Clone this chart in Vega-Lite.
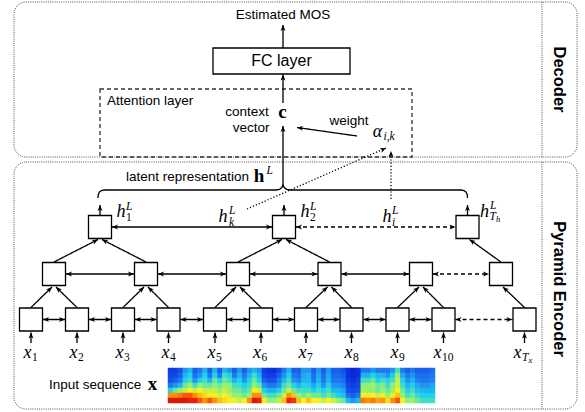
{
"$schema":"https://vega.github.io/schema/vega-lite/v6.json",
"width":585,"height":412,"padding":0,"autosize":{"type":"none"},
"background":"white",
"config":{"view":{"stroke":null}},
"datasets":{
"panels":[{"x":14,"y":2,"x2":577,"y2":157},{"x":14,"y":162,"x2":577,"y2":409}],
"dividers":[{"x":542,"y":2,"y2":157},{"x":542,"y":162,"y2":409}],
"attn":[{"x":100,"y":89,"x2":412,"y2":157}],
"fc":[{"x":213,"y":48,"x2":350,"y2":74}],
"nodes":[
{"x":31,"y":319.5},{"x":77,"y":319.5},{"x":123,"y":319.5},{"x":168.5,"y":319.5},{"x":215,"y":319.5},{"x":261,"y":319.5},{"x":306,"y":319.5},{"x":351.5,"y":319.5},{"x":397.5,"y":319.5},{"x":443.5,"y":319.5},{"x":524.5,"y":319.5},
{"x":54,"y":274},{"x":146,"y":274},{"x":238,"y":274},{"x":329.5,"y":274},{"x":421,"y":274},{"x":501,"y":274},
{"x":100,"y":227},{"x":284,"y":227},{"x":467.5,"y":227}],
"edges":[
{"x":31,"y":343,"x2":31,"y2":332.5,"s":"solid","h":1},
{"x":77,"y":343,"x2":77,"y2":332.5,"s":"solid","h":1},
{"x":123,"y":343,"x2":123,"y2":332.5,"s":"solid","h":1},
{"x":168.5,"y":343,"x2":168.5,"y2":332.5,"s":"solid","h":1},
{"x":215,"y":343,"x2":215,"y2":332.5,"s":"solid","h":1},
{"x":261,"y":343,"x2":261,"y2":332.5,"s":"solid","h":1},
{"x":306,"y":343,"x2":306,"y2":332.5,"s":"solid","h":1},
{"x":351.5,"y":343,"x2":351.5,"y2":332.5,"s":"solid","h":1},
{"x":397.5,"y":343,"x2":397.5,"y2":332.5,"s":"solid","h":1},
{"x":443.5,"y":343,"x2":443.5,"y2":332.5,"s":"solid","h":1},
{"x":524.5,"y":343,"x2":524.5,"y2":332.5,"s":"solid","h":1},
{"x":31,"y":307.5,"x2":52,"y2":287,"s":"solid","h":1},
{"x":77,"y":307.5,"x2":56,"y2":287,"s":"solid","h":1},
{"x":123,"y":307.5,"x2":144,"y2":287,"s":"solid","h":1},
{"x":168.5,"y":307.5,"x2":148,"y2":287,"s":"solid","h":1},
{"x":215,"y":307.5,"x2":236,"y2":287,"s":"solid","h":1},
{"x":261,"y":307.5,"x2":240,"y2":287,"s":"solid","h":1},
{"x":306,"y":307.5,"x2":327.5,"y2":287,"s":"solid","h":1},
{"x":351.5,"y":307.5,"x2":331.5,"y2":287,"s":"solid","h":1},
{"x":397.5,"y":307.5,"x2":419,"y2":287,"s":"solid","h":1},
{"x":443.5,"y":307.5,"x2":423,"y2":287,"s":"solid","h":1},
{"x":524.5,"y":307.5,"x2":503,"y2":287,"s":"solid","h":1},
{"x":54,"y":262,"x2":98,"y2":239.5,"s":"solid","h":1},
{"x":146,"y":262,"x2":102,"y2":239.5,"s":"solid","h":1},
{"x":238,"y":262,"x2":282,"y2":239.5,"s":"solid","h":1},
{"x":329.5,"y":262,"x2":286,"y2":239.5,"s":"solid","h":1},
{"x":501,"y":262,"x2":469.5,"y2":239.5,"s":"solid","h":1},
{"x":43,"y":319.5,"x2":65,"y2":319.5,"s":"solid","h":2},
{"x":89,"y":319.5,"x2":111,"y2":319.5,"s":"solid","h":2},
{"x":135,"y":319.5,"x2":156.5,"y2":319.5,"s":"solid","h":2},
{"x":180.5,"y":319.5,"x2":203,"y2":319.5,"s":"solid","h":2},
{"x":227,"y":319.5,"x2":249,"y2":319.5,"s":"solid","h":2},
{"x":273,"y":319.5,"x2":294,"y2":319.5,"s":"solid","h":2},
{"x":318,"y":319.5,"x2":339.5,"y2":319.5,"s":"solid","h":2},
{"x":363.5,"y":319.5,"x2":385.5,"y2":319.5,"s":"solid","h":2},
{"x":409.5,"y":319.5,"x2":431.5,"y2":319.5,"s":"solid","h":2},
{"x":455.5,"y":319.5,"x2":512.5,"y2":319.5,"s":"dashed","h":2},
{"x":66,"y":274,"x2":134,"y2":274,"s":"solid","h":2},
{"x":158,"y":274,"x2":226,"y2":274,"s":"solid","h":2},
{"x":250,"y":274,"x2":317.5,"y2":274,"s":"solid","h":2},
{"x":341.5,"y":274,"x2":409,"y2":274,"s":"solid","h":2},
{"x":433,"y":274,"x2":489,"y2":274,"s":"dashed","h":2},
{"x":112,"y":227,"x2":272,"y2":227,"s":"solid","h":2},
{"x":296,"y":227,"x2":455.5,"y2":227,"s":"dashed","h":2},
{"x":100,"y":215,"x2":100,"y2":205,"s":"solid","h":1},
{"x":284,"y":215,"x2":284,"y2":205,"s":"solid","h":1},
{"x":467.5,"y":215,"x2":467.5,"y2":205,"s":"solid","h":1},
{"x":283,"y":48,"x2":283,"y2":25,"s":"solid","h":1},
{"x":283,"y":103,"x2":283,"y2":74.5,"s":"solid","h":1},
{"x":283,"y":186,"x2":283,"y2":126,"s":"solid","h":1},
{"x":357,"y":136,"x2":297,"y2":127.5,"s":"solid","h":1},
{"x":247,"y":209,"x2":386,"y2":148,"s":"dotted","h":1},
{"x":391,"y":199,"x2":391,"y2":151,"s":"dotted","h":1}],
"brace":[
{"o":0,"x":98,"y":198},{"o":1,"x":98.3,"y":194.5},{"o":2,"x":99.5,"y":192},{"o":3,"x":101.5,"y":190.5},{"o":4,"x":104.5,"y":190},
{"o":5,"x":276,"y":190},{"o":6,"x":279.5,"y":189.3},{"o":7,"x":281.8,"y":187.5},{"o":8,"x":283,"y":185},{"o":9,"x":284.2,"y":187.5},{"o":10,"x":286.5,"y":189.3},{"o":11,"x":290,"y":190},
{"o":12,"x":461,"y":190},{"o":13,"x":464,"y":190.5},{"o":14,"x":466,"y":192},{"o":15,"x":467.2,"y":194.5},{"o":16,"x":467.5,"y":198}],
"sansC":[{"x":283,"y":15,"t":"Estimated MOS"},{"x":247,"y":112,"t":"context"},{"x":251,"y":127.5,"t":"vector"},{"x":349,"y":121,"t":"weight"}],
"sansL":[{"x":107,"y":101,"t":"Attention layer"},{"x":126,"y":176.5,"t":"latent representation"},{"x":49,"y":384.5,"t":"Input sequence"}],
"fcText":[{"x":281.5,"y":61,"t":"FC layer"}],
"side":[{"x":559,"y":79.5,"t":"Decoder"},{"x":559,"y":289,"t":"Pyramid Encoder"}],
"mathBig":[
{"x":27.5,"y":357.5,"t":"x"},{"x":73.5,"y":357.5,"t":"x"},{"x":119.5,"y":357.5,"t":"x"},{"x":165.5,"y":357.5,"t":"x"},{"x":211.5,"y":357.5,"t":"x"},{"x":257,"y":357.5,"t":"x"},{"x":302.5,"y":357.5,"t":"x"},{"x":348.5,"y":357.5,"t":"x"},{"x":394.5,"y":357.5,"t":"x"},{"x":437.5,"y":357.5,"t":"x"},{"x":517.5,"y":357.5,"t":"x"},
{"x":121,"y":217,"t":"h"},{"x":223,"y":222,"t":"h"},{"x":305,"y":217,"t":"h"},{"x":387,"y":222,"t":"h"},{"x":484.5,"y":217,"t":"h"},
{"x":377.5,"y":137,"t":"α"}],
"subUp":[
{"x":32,"y":361,"t":"1"},{"x":78,"y":361,"t":"2"},{"x":124,"y":361,"t":"3"},{"x":170,"y":361,"t":"4"},{"x":216,"y":361,"t":"5"},{"x":261.5,"y":361,"t":"6"},{"x":307,"y":361,"t":"7"},{"x":353,"y":361,"t":"8"},{"x":399,"y":361,"t":"9"},{"x":442,"y":361,"t":"10"},
{"x":126,"y":220.5,"t":"1"},{"x":310,"y":220.5,"t":"2"}],
"subIt":[
{"x":522,"y":361,"t":"T"},
{"x":126,"y":210,"t":"L"},{"x":229,"y":214,"t":"L"},{"x":229,"y":226,"t":"k"},{"x":310,"y":210,"t":"L"},{"x":392,"y":214,"t":"L"},{"x":392,"y":226,"t":"i"},{"x":490,"y":209,"t":"L"},{"x":489.5,"y":220,"t":"T"},
{"x":383.5,"y":139.5,"t":"i,k"},{"x":266.5,"y":173.5,"t":"L"}],
"tiny":[{"x":528.5,"y":363,"t":"x"},{"x":496,"y":222,"t":"h"}],
"bold":[{"x":282.5,"y":118,"t":"c"},{"x":259,"y":182,"t":"h"},{"x":152.5,"y":389.5,"t":"x"}],
"spec":[
{"c":0,"r":0,"v":0.18},{"c":0,"r":1,"v":0.2},{"c":0,"r":2,"v":0.22},{"c":0,"r":3,"v":0.3},{"c":0,"r":4,"v":0.45},{"c":0,"r":5,"v":0.8},{"c":0,"r":6,"v":0.92},
{"c":1,"r":0,"v":0.18},{"c":1,"r":1,"v":0.2},{"c":1,"r":2,"v":0.25},{"c":1,"r":3,"v":0.35},{"c":1,"r":4,"v":0.55},{"c":1,"r":5,"v":0.8},{"c":1,"r":6,"v":0.92},
{"c":2,"r":0,"v":0.22},{"c":2,"r":1,"v":0.25},{"c":2,"r":2,"v":0.3},{"c":2,"r":3,"v":0.4},{"c":2,"r":4,"v":0.6},{"c":2,"r":5,"v":0.82},{"c":2,"r":6,"v":0.92},
{"c":3,"r":0,"v":0.35},{"c":3,"r":1,"v":0.4},{"c":3,"r":2,"v":0.45},{"c":3,"r":3,"v":0.55},{"c":3,"r":4,"v":0.65},{"c":3,"r":5,"v":0.85},{"c":3,"r":6,"v":0.92},
{"c":4,"r":0,"v":0.4},{"c":4,"r":1,"v":0.45},{"c":4,"r":2,"v":0.5},{"c":4,"r":3,"v":0.6},{"c":4,"r":4,"v":0.7},{"c":4,"r":5,"v":0.85},{"c":4,"r":6,"v":0.9},
{"c":5,"r":0,"v":0.25},{"c":5,"r":1,"v":0.28},{"c":5,"r":2,"v":0.35},{"c":5,"r":3,"v":0.5},{"c":5,"r":4,"v":0.65},{"c":5,"r":5,"v":0.8},{"c":5,"r":6,"v":0.9},
{"c":6,"r":0,"v":0.3},{"c":6,"r":1,"v":0.35},{"c":6,"r":2,"v":0.45},{"c":6,"r":3,"v":0.6},{"c":6,"r":4,"v":0.7},{"c":6,"r":5,"v":0.75},{"c":6,"r":6,"v":0.85},
{"c":7,"r":0,"v":0.4},{"c":7,"r":1,"v":0.45},{"c":7,"r":2,"v":0.5},{"c":7,"r":3,"v":0.55},{"c":7,"r":4,"v":0.65},{"c":7,"r":5,"v":0.72},{"c":7,"r":6,"v":0.8},
{"c":8,"r":0,"v":0.25},{"c":8,"r":1,"v":0.3},{"c":8,"r":2,"v":0.4},{"c":8,"r":3,"v":0.55},{"c":8,"r":4,"v":0.65},{"c":8,"r":5,"v":0.7},{"c":8,"r":6,"v":0.85},
{"c":9,"r":0,"v":0.4},{"c":9,"r":1,"v":0.45},{"c":9,"r":2,"v":0.55},{"c":9,"r":3,"v":0.6},{"c":9,"r":4,"v":0.65},{"c":9,"r":5,"v":0.7},{"c":9,"r":6,"v":0.8},
{"c":10,"r":0,"v":0.25},{"c":10,"r":1,"v":0.3},{"c":10,"r":2,"v":0.45},{"c":10,"r":3,"v":0.55},{"c":10,"r":4,"v":0.6},{"c":10,"r":5,"v":0.65},{"c":10,"r":6,"v":0.75},
{"c":11,"r":0,"v":0.4},{"c":11,"r":1,"v":0.5},{"c":11,"r":2,"v":0.55},{"c":11,"r":3,"v":0.6},{"c":11,"r":4,"v":0.65},{"c":11,"r":5,"v":0.7},{"c":11,"r":6,"v":0.72},
{"c":12,"r":0,"v":0.35},{"c":12,"r":1,"v":0.45},{"c":12,"r":2,"v":0.5},{"c":12,"r":3,"v":0.6},{"c":12,"r":4,"v":0.6},{"c":12,"r":5,"v":0.65},{"c":12,"r":6,"v":0.7},
{"c":13,"r":0,"v":0.25},{"c":13,"r":1,"v":0.3},{"c":13,"r":2,"v":0.4},{"c":13,"r":3,"v":0.5},{"c":13,"r":4,"v":0.55},{"c":13,"r":5,"v":0.6},{"c":13,"r":6,"v":0.7},
{"c":14,"r":0,"v":0.35},{"c":14,"r":1,"v":0.4},{"c":14,"r":2,"v":0.45},{"c":14,"r":3,"v":0.5},{"c":14,"r":4,"v":0.55},{"c":14,"r":5,"v":0.6},{"c":14,"r":6,"v":0.65},
{"c":15,"r":0,"v":0.25},{"c":15,"r":1,"v":0.3},{"c":15,"r":2,"v":0.35},{"c":15,"r":3,"v":0.45},{"c":15,"r":4,"v":0.5},{"c":15,"r":5,"v":0.55},{"c":15,"r":6,"v":0.7},
{"c":16,"r":0,"v":0.35},{"c":16,"r":1,"v":0.4},{"c":16,"r":2,"v":0.45},{"c":16,"r":3,"v":0.5},{"c":16,"r":4,"v":0.55},{"c":16,"r":5,"v":0.6},{"c":16,"r":6,"v":0.8},
{"c":17,"r":0,"v":0.4},{"c":17,"r":1,"v":0.5},{"c":17,"r":2,"v":0.55},{"c":17,"r":3,"v":0.6},{"c":17,"r":4,"v":0.7},{"c":17,"r":5,"v":0.8},{"c":17,"r":6,"v":0.92},
{"c":18,"r":0,"v":0.35},{"c":18,"r":1,"v":0.4},{"c":18,"r":2,"v":0.45},{"c":18,"r":3,"v":0.55},{"c":18,"r":4,"v":0.65},{"c":18,"r":5,"v":0.8},{"c":18,"r":6,"v":0.9},
{"c":19,"r":0,"v":0.18},{"c":19,"r":1,"v":0.2},{"c":19,"r":2,"v":0.25},{"c":19,"r":3,"v":0.35},{"c":19,"r":4,"v":0.45},{"c":19,"r":5,"v":0.55},{"c":19,"r":6,"v":0.7},
{"c":20,"r":0,"v":0.15},{"c":20,"r":1,"v":0.18},{"c":20,"r":2,"v":0.22},{"c":20,"r":3,"v":0.3},{"c":20,"r":4,"v":0.4},{"c":20,"r":5,"v":0.5},{"c":20,"r":6,"v":0.6},
{"c":21,"r":0,"v":0.15},{"c":21,"r":1,"v":0.18},{"c":21,"r":2,"v":0.22},{"c":21,"r":3,"v":0.3},{"c":21,"r":4,"v":0.4},{"c":21,"r":5,"v":0.5},{"c":21,"r":6,"v":0.6},
{"c":22,"r":0,"v":0.2},{"c":22,"r":1,"v":0.25},{"c":22,"r":2,"v":0.3},{"c":22,"r":3,"v":0.35},{"c":22,"r":4,"v":0.45},{"c":22,"r":5,"v":0.55},{"c":22,"r":6,"v":0.65},
{"c":23,"r":0,"v":0.3},{"c":23,"r":1,"v":0.35},{"c":23,"r":2,"v":0.4},{"c":23,"r":3,"v":0.5},{"c":23,"r":4,"v":0.55},{"c":23,"r":5,"v":0.65},{"c":23,"r":6,"v":0.75},
{"c":24,"r":0,"v":0.4},{"c":24,"r":1,"v":0.45},{"c":24,"r":2,"v":0.5},{"c":24,"r":3,"v":0.55},{"c":24,"r":4,"v":0.65},{"c":24,"r":5,"v":0.8},{"c":24,"r":6,"v":0.9},
{"c":25,"r":0,"v":0.25},{"c":25,"r":1,"v":0.3},{"c":25,"r":2,"v":0.35},{"c":25,"r":3,"v":0.45},{"c":25,"r":4,"v":0.55},{"c":25,"r":5,"v":0.75},{"c":25,"r":6,"v":0.88},
{"c":26,"r":0,"v":0.25},{"c":26,"r":1,"v":0.28},{"c":26,"r":2,"v":0.32},{"c":26,"r":3,"v":0.4},{"c":26,"r":4,"v":0.5},{"c":26,"r":5,"v":0.6},{"c":26,"r":6,"v":0.75},
{"c":27,"r":0,"v":0.35},{"c":27,"r":1,"v":0.38},{"c":27,"r":2,"v":0.4},{"c":27,"r":3,"v":0.45},{"c":27,"r":4,"v":0.5},{"c":27,"r":5,"v":0.55},{"c":27,"r":6,"v":0.7},
{"c":28,"r":0,"v":0.35},{"c":28,"r":1,"v":0.4},{"c":28,"r":2,"v":0.4},{"c":28,"r":3,"v":0.45},{"c":28,"r":4,"v":0.5},{"c":28,"r":5,"v":0.6},{"c":28,"r":6,"v":0.75},
{"c":29,"r":0,"v":0.25},{"c":29,"r":1,"v":0.28},{"c":29,"r":2,"v":0.3},{"c":29,"r":3,"v":0.38},{"c":29,"r":4,"v":0.45},{"c":29,"r":5,"v":0.55},{"c":29,"r":6,"v":0.7},
{"c":30,"r":0,"v":0.35},{"c":30,"r":1,"v":0.38},{"c":30,"r":2,"v":0.4},{"c":30,"r":3,"v":0.45},{"c":30,"r":4,"v":0.5},{"c":30,"r":5,"v":0.55},{"c":30,"r":6,"v":0.7},
{"c":31,"r":0,"v":0.25},{"c":31,"r":1,"v":0.28},{"c":31,"r":2,"v":0.3},{"c":31,"r":3,"v":0.35},{"c":31,"r":4,"v":0.45},{"c":31,"r":5,"v":0.5},{"c":31,"r":6,"v":0.65},
{"c":32,"r":0,"v":0.35},{"c":32,"r":1,"v":0.38},{"c":32,"r":2,"v":0.4},{"c":32,"r":3,"v":0.45},{"c":32,"r":4,"v":0.5},{"c":32,"r":5,"v":0.55},{"c":32,"r":6,"v":0.7},
{"c":33,"r":0,"v":0.25},{"c":33,"r":1,"v":0.27},{"c":33,"r":2,"v":0.3},{"c":33,"r":3,"v":0.35},{"c":33,"r":4,"v":0.4},{"c":33,"r":5,"v":0.5},{"c":33,"r":6,"v":0.65},
{"c":34,"r":0,"v":0.25},{"c":34,"r":1,"v":0.27},{"c":34,"r":2,"v":0.3},{"c":34,"r":3,"v":0.35},{"c":34,"r":4,"v":0.4},{"c":34,"r":5,"v":0.45},{"c":34,"r":6,"v":0.6},
{"c":35,"r":0,"v":0.22},{"c":35,"r":1,"v":0.25},{"c":35,"r":2,"v":0.28},{"c":35,"r":3,"v":0.32},{"c":35,"r":4,"v":0.38},{"c":35,"r":5,"v":0.42},{"c":35,"r":6,"v":0.55},
{"c":36,"r":0,"v":0.15},{"c":36,"r":1,"v":0.15},{"c":36,"r":2,"v":0.18},{"c":36,"r":3,"v":0.2},{"c":36,"r":4,"v":0.22},{"c":36,"r":5,"v":0.28},{"c":36,"r":6,"v":0.4},
{"c":37,"r":0,"v":0.12},{"c":37,"r":1,"v":0.13},{"c":37,"r":2,"v":0.15},{"c":37,"r":3,"v":0.18},{"c":37,"r":4,"v":0.2},{"c":37,"r":5,"v":0.25},{"c":37,"r":6,"v":0.35},
{"c":38,"r":0,"v":0.15},{"c":38,"r":1,"v":0.15},{"c":38,"r":2,"v":0.18},{"c":38,"r":3,"v":0.2},{"c":38,"r":4,"v":0.22},{"c":38,"r":5,"v":0.3},{"c":38,"r":6,"v":0.4},
{"c":39,"r":0,"v":0.3},{"c":39,"r":1,"v":0.4},{"c":39,"r":2,"v":0.5},{"c":39,"r":3,"v":0.6},{"c":39,"r":4,"v":0.62},{"c":39,"r":5,"v":0.7},{"c":39,"r":6,"v":0.82},
{"c":40,"r":0,"v":0.3},{"c":40,"r":1,"v":0.4},{"c":40,"r":2,"v":0.5},{"c":40,"r":3,"v":0.6},{"c":40,"r":4,"v":0.6},{"c":40,"r":5,"v":0.68},{"c":40,"r":6,"v":0.8},
{"c":41,"r":0,"v":0.35},{"c":41,"r":1,"v":0.45},{"c":41,"r":2,"v":0.55},{"c":41,"r":3,"v":0.62},{"c":41,"r":4,"v":0.6},{"c":41,"r":5,"v":0.7},{"c":41,"r":6,"v":0.82},
{"c":42,"r":0,"v":0.3},{"c":42,"r":1,"v":0.4},{"c":42,"r":2,"v":0.45},{"c":42,"r":3,"v":0.55},{"c":42,"r":4,"v":0.55},{"c":42,"r":5,"v":0.65},{"c":42,"r":6,"v":0.78},
{"c":43,"r":0,"v":0.3},{"c":43,"r":1,"v":0.4},{"c":43,"r":2,"v":0.5},{"c":43,"r":3,"v":0.58},{"c":43,"r":4,"v":0.6},{"c":43,"r":5,"v":0.68},{"c":43,"r":6,"v":0.8},
{"c":44,"r":0,"v":0.3},{"c":44,"r":1,"v":0.35},{"c":44,"r":2,"v":0.45},{"c":44,"r":3,"v":0.5},{"c":44,"r":4,"v":0.55},{"c":44,"r":5,"v":0.6},{"c":44,"r":6,"v":0.72},
{"c":45,"r":0,"v":0.35},{"c":45,"r":1,"v":0.45},{"c":45,"r":2,"v":0.5},{"c":45,"r":3,"v":0.6},{"c":45,"r":4,"v":0.6},{"c":45,"r":5,"v":0.68},{"c":45,"r":6,"v":0.8},
{"c":46,"r":0,"v":0.5},{"c":46,"r":1,"v":0.6},{"c":46,"r":2,"v":0.65},{"c":46,"r":3,"v":0.65},{"c":46,"r":4,"v":0.7},{"c":46,"r":5,"v":0.75},{"c":46,"r":6,"v":0.85},
{"c":47,"r":0,"v":0.3},{"c":47,"r":1,"v":0.38},{"c":47,"r":2,"v":0.45},{"c":47,"r":3,"v":0.5},{"c":47,"r":4,"v":0.55},{"c":47,"r":5,"v":0.6},{"c":47,"r":6,"v":0.7},
{"c":48,"r":0,"v":0.25},{"c":48,"r":1,"v":0.3},{"c":48,"r":2,"v":0.35},{"c":48,"r":3,"v":0.4},{"c":48,"r":4,"v":0.45},{"c":48,"r":5,"v":0.5},{"c":48,"r":6,"v":0.6},
{"c":49,"r":0,"v":0.3},{"c":49,"r":1,"v":0.35},{"c":49,"r":2,"v":0.4},{"c":49,"r":3,"v":0.45},{"c":49,"r":4,"v":0.5},{"c":49,"r":5,"v":0.55},{"c":49,"r":6,"v":0.6},
{"c":50,"r":0,"v":0.25},{"c":50,"r":1,"v":0.28},{"c":50,"r":2,"v":0.32},{"c":50,"r":3,"v":0.38},{"c":50,"r":4,"v":0.42},{"c":50,"r":5,"v":0.48},{"c":50,"r":6,"v":0.55},
{"c":51,"r":0,"v":0.25},{"c":51,"r":1,"v":0.28},{"c":51,"r":2,"v":0.3},{"c":51,"r":3,"v":0.35},{"c":51,"r":4,"v":0.4},{"c":51,"r":5,"v":0.45},{"c":51,"r":6,"v":0.5},
{"c":52,"r":0,"v":0.25},{"c":52,"r":1,"v":0.28},{"c":52,"r":2,"v":0.3},{"c":52,"r":3,"v":0.35},{"c":52,"r":4,"v":0.4},{"c":52,"r":5,"v":0.45},{"c":52,"r":6,"v":0.5},
{"c":53,"r":0,"v":0.28},{"c":53,"r":1,"v":0.3},{"c":53,"r":2,"v":0.32},{"c":53,"r":3,"v":0.38},{"c":53,"r":4,"v":0.4},{"c":53,"r":5,"v":0.45},{"c":53,"r":6,"v":0.5}]
},
"layer":[
{
"encoding":{
"x":{"field":"x","type":"quantitative","scale":{"domain":[0,585],"range":[0,585],"nice":false,"zero":false},"axis":null},
"y":{"field":"y","type":"quantitative","scale":{"domain":[0,412],"range":[0,412],"nice":false,"zero":false},"axis":null}
},
"layer":[
{"data":{"name":"panels"},"mark":{"type":"rect","cornerRadius":12,"fill":"white","fillOpacity":0,"stroke":"#555","strokeWidth":1,"strokeDash":[1,1.2]},
 "encoding":{"x2":{"field":"x2"},"y2":{"field":"y2"}}},
{"data":{"name":"dividers"},"mark":{"type":"rule","stroke":"#555","strokeWidth":1,"strokeDash":[1,1.2]},
 "encoding":{"y2":{"field":"y2"}}},
{"data":{"name":"attn"},"mark":{"type":"rect","fill":"white","fillOpacity":0,"stroke":"#333","strokeWidth":1.3,"strokeDash":[4,3]},
 "encoding":{"x2":{"field":"x2"},"y2":{"field":"y2"}}},
{"data":{"name":"fc"},"mark":{"type":"rect","fill":"white","stroke":"#000","strokeWidth":1.3},
 "encoding":{"x2":{"field":"x2"},"y2":{"field":"y2"}}},
{"data":{"name":"edges"},"mark":{"type":"rule","color":"#000"},
 "encoding":{"x2":{"field":"x2"},"y2":{"field":"y2"},
  "strokeDash":{"field":"s","type":"nominal","scale":{"domain":["solid","dashed","dotted"],"range":[[1,0],[4,3],[1.2,2]]},"legend":null},
  "strokeWidth":{"field":"s","type":"nominal","scale":{"domain":["solid","dashed","dotted"],"range":[1.3,1.3,1]},"legend":null}}},
{"data":{"name":"brace"},"mark":{"type":"line","color":"#000","strokeWidth":1.3},
 "encoding":{"order":{"field":"o","type":"quantitative"}}},
{"data":{"name":"nodes"},"mark":{"type":"point","shape":"square","size":529,"filled":true,"fill":"white","stroke":"#000","strokeWidth":1.3,"opacity":1}},
{"data":{"name":"edges"},
 "transform":[{"filter":"datum.h > 0"},{"calculate":"atan2(datum.x2-datum.x, datum.y-datum.y2)*180/PI","as":"ang"}],
 "mark":{"type":"point","shape":"M0,0L-0.9,2.2L0,1.6L0.9,2.2Z","size":30,"filled":true,"color":"#000","opacity":1,"strokeWidth":0},
 "encoding":{
  "x":{"field":"x2","type":"quantitative","scale":{"domain":[0,585],"range":[0,585],"nice":false,"zero":false},"axis":null},
  "y":{"field":"y2","type":"quantitative","scale":{"domain":[0,412],"range":[0,412],"nice":false,"zero":false},"axis":null},
  "angle":{"field":"ang","type":"quantitative","scale":null}}},
{"data":{"name":"edges"},
 "transform":[{"filter":"datum.h == 2"},{"calculate":"atan2(datum.x-datum.x2, datum.y2-datum.y)*180/PI","as":"ang"}],
 "mark":{"type":"point","shape":"M0,0L-0.9,2.2L0,1.6L0.9,2.2Z","size":30,"filled":true,"color":"#000","opacity":1,"strokeWidth":0},
 "encoding":{"angle":{"field":"ang","type":"quantitative","scale":null}}},
{"data":{"name":"sansC"},"mark":{"type":"text","font":"Liberation Sans","fontSize":13.5,"align":"center","baseline":"middle","color":"#000"},
 "encoding":{"text":{"field":"t"}}},
{"data":{"name":"sansL"},"mark":{"type":"text","font":"Liberation Sans","fontSize":13.5,"align":"left","baseline":"middle","color":"#000"},
 "encoding":{"text":{"field":"t"}}},
{"data":{"name":"fcText"},"mark":{"type":"text","font":"Liberation Sans","fontSize":16,"align":"center","baseline":"middle","color":"#000"},
 "encoding":{"text":{"field":"t"}}},
{"data":{"name":"side"},"mark":{"type":"text","font":"Liberation Sans","fontSize":16.5,"fontWeight":"bold","angle":90,"align":"center","baseline":"middle","color":"#000"},
 "encoding":{"text":{"field":"t"}}},
{"data":{"name":"mathBig"},"mark":{"type":"text","font":"Liberation Serif","fontSize":18,"fontStyle":"italic","align":"center","baseline":"alphabetic","color":"#000"},
 "encoding":{"text":{"field":"t"}}},
{"data":{"name":"subUp"},"mark":{"type":"text","font":"Liberation Serif","fontSize":11.5,"align":"left","baseline":"alphabetic","color":"#000"},
 "encoding":{"text":{"field":"t"}}},
{"data":{"name":"subIt"},"mark":{"type":"text","font":"Liberation Serif","fontSize":11.5,"fontStyle":"italic","align":"left","baseline":"alphabetic","color":"#000"},
 "encoding":{"text":{"field":"t"}}},
{"data":{"name":"tiny"},"mark":{"type":"text","font":"Liberation Serif","fontSize":8.5,"fontStyle":"italic","align":"left","baseline":"alphabetic","color":"#000"},
 "encoding":{"text":{"field":"t"}}},
{"data":{"name":"bold"},"mark":{"type":"text","font":"Liberation Serif","fontSize":19,"fontWeight":"bold","align":"center","baseline":"alphabetic","color":"#000"},
 "encoding":{"text":{"field":"t"}}}
]
},
{
"data":{"name":"spec"},
"mark":{"type":"point","shape":"square","filled":true,"opacity":1,"size":30,"strokeWidth":0},
"encoding":{
"x":{"field":"c","type":"quantitative","scale":{"domain":[0,53],"range":[170.5,432.5],"nice":false,"zero":false},"axis":null},
"y":{"field":"r","type":"quantitative","scale":{"domain":[0,6],"range":[370.5,400.5],"nice":false,"zero":false},"axis":null},
"color":{"field":"v","type":"quantitative","scale":{"domain":[0,0.15,0.3,0.45,0.58,0.7,0.8,0.9,1],"range":["#00008f","#0a30e0","#1e78f0","#20d0f0","#80f080","#f8f020","#ff9000","#e82010","#900000"],"interpolate":"rgb"},"legend":null}
}
}
],
"resolve":{"scale":{"x":"independent","y":"independent"}}
}
